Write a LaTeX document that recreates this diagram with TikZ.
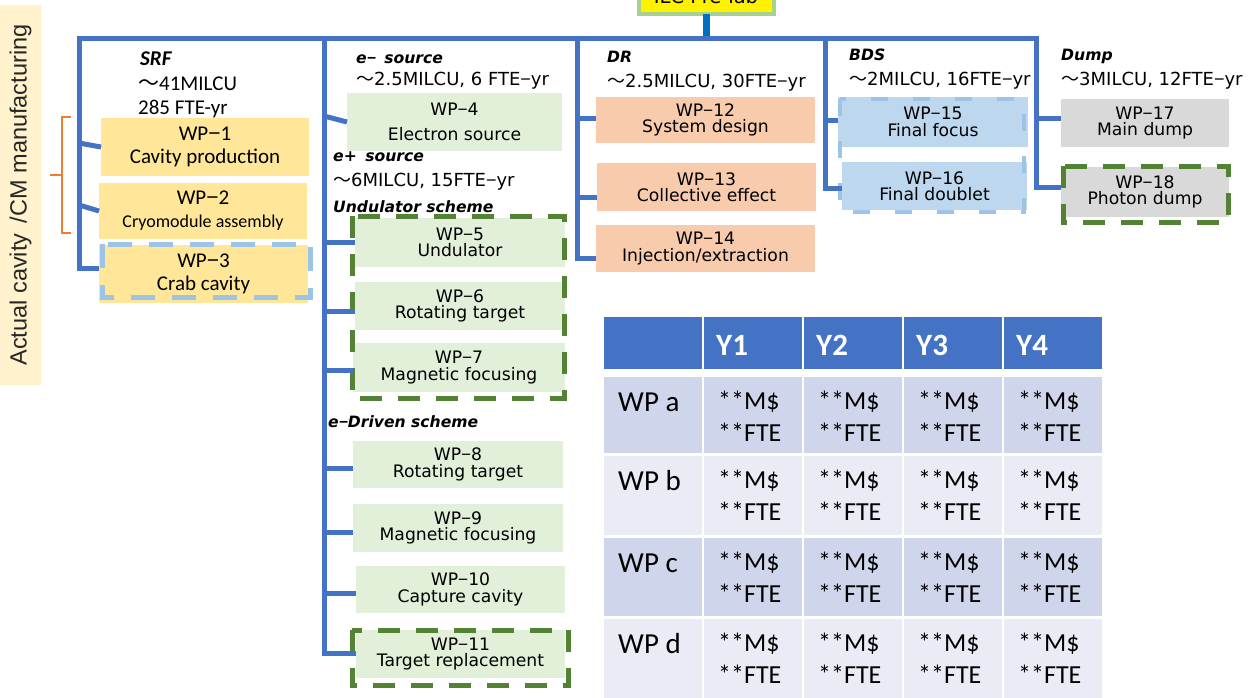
\documentclass[tikz,border=0pt]{standalone}
\usepackage{fontspec}
\setmainfont{DejaVu Sans}
\newfontfamily\gothfont{DejaVu Sans}
\newfontfamily\calfont{Carlito}
\newfontfamily\arialfont{Liberation Sans}
\newfontfamily\cjkfont{Noto Sans CJK JP}

% small helpers
\newcommand\wave{{\cjkfont ～}}
\newcommand\mns{{\arialfont −}}
\newcommand\srffnt{\calfont\fontsize{21}{23}\selectfont}
\newcommand\boxfnt{\gothfont\fontsize{17.2}{16.5}\selectfont\lineskiplimit=-40pt\lineskip=0pt\relax}
\newcommand\boxfntw{\gothfont\fontsize{17.2}{25}\selectfont}
\newcommand\hdrfnt{\gothfont\fontsize{18}{20}\selectfont}
\newcommand\hditfnt{\gothfont\bfseries\itshape\fontsize{15.6}{18}\selectfont}

% box given by its corners: name, style, x1, y1, x2, y2, text
\newcommand\wpnode[7]{%
  \node[#2, minimum width={(#5)-(#3)}, minimum height={(#6)-(#4)}]
    (#1) at ({((#3)+(#5))/2},{((#4)+(#6))/2}) {#7};}

\definecolor{busblue}{HTML}{4472C4}
\definecolor{rootblue}{HTML}{0070C0}
\definecolor{srfyellow}{HTML}{FFE699}
\definecolor{srcgreen}{HTML}{E2F0D9}
\definecolor{drorange}{HTML}{F8CBAD}
\definecolor{bdsblue}{HTML}{BDD7EE}
\definecolor{bdsdash}{HTML}{9DC3E6}
\definecolor{dumpgray}{HTML}{D9D9D9}
\definecolor{dashgreen}{HTML}{548235}
\definecolor{ilcgreen}{HTML}{A9D18E}
\definecolor{sidebeige}{HTML}{FFF2CC}
\definecolor{braceorange}{HTML}{ED7D31}
\definecolor{hdrblue}{HTML}{4472C4}
\definecolor{rowdark}{HTML}{CFD5EA}
\definecolor{rowlight}{HTML}{E9EBF5}

\tikzset{
  bus/.style={draw=busblue, line width=5pt},
  rootlink/.style={draw=rootblue, line width=7pt},
  wpbox/.style={rectangle, inner sep=0pt, outer sep=0pt, align=center, text=black},
  srfbox/.style={wpbox, fill=srfyellow, font=\srffnt},
  greenbox/.style={wpbox, fill=srcgreen, font=\boxfnt},
  drbox/.style={wpbox, fill=drorange, font=\boxfnt},
  bdsbox/.style={wpbox, fill=bdsblue, font=\boxfnt},
  dumpbox/.style={wpbox, fill=dumpgray, font=\boxfnt},
  frameblue/.style={draw=bdsdash, line width=5pt, dash pattern=on 24pt off 17pt},
  framebds/.style={draw=bdsdash, line width=4pt, dash pattern=on 17pt off 25pt},
  framegreen/.style={draw=dashgreen, line width=5pt, dash pattern=on 22pt off 16pt},
  hdr/.style={anchor=base west, inner sep=0pt, font=\hdrfnt},
  hdrit/.style={anchor=base west, inner sep=0pt, font=\hditfnt},
  srfhdr/.style={anchor=base west, inner sep=0pt, font=\srffnt},
  cellbox/.style={rectangle, inner sep=0pt, outer sep=0pt},
  thead/.style={anchor=base west, inner sep=0pt, text=white, font=\calfont\bfseries\fontsize{31}{31}\selectfont},
  tlab/.style={anchor=base west, inner sep=0pt, font=\calfont\fontsize{29}{29}\selectfont},
  tval/.style={anchor=base west, inner sep=0pt, font=\calfont\fontsize{26}{26}\selectfont},
}

\begin{document}
\begin{tikzpicture}[x=1pt, y=-1pt]
\useasboundingbox (0,0) rectangle (1250,697);
\begin{scope}
\clip (0,0) rectangle (1250,697);

% side label and its brace
\node[rotate=90, fill=sidebeige, minimum width=380pt, minimum height=41pt, inner sep=0pt,
      text=black!85, font=\arialfont\fontsize{23.5}{23.5}\selectfont]
  (side) at (20.5,195) {Actual cavity \,/CM manufacturing};
\draw[braceorange, line width=2.5pt] (71,117) -- (62,117) -- (62,233) -- (71,233);
\draw[braceorange, line width=2.5pt] (62,175) -- (50,175);

% root box
\node[rectangle, fill=yellow, draw=ilcgreen, line width=4pt, inner sep=0pt, outer sep=0pt,
      minimum width=135pt, minimum height=46pt] (ilc) at (706,-9) {};
\node[anchor=base, inner sep=0pt, font=\gothfont\fontsize{19.5}{20}\selectfont]
  (ilctext) at (706,3) {ILC Pre-lab};

% group headers
\node[srfhdr, font=\calfont\bfseries\itshape\fontsize{21}{23}\selectfont] (h-srf) at (140,65) {SRF};
\node[srfhdr] (h-srf2) at (138,90) {\wave41MILCU};
\node[srfhdr] (h-srf3) at (138,114) {285 FTE-yr};

\node[hdrit] (h-em) at (356,63) {e\mns\hspace{3pt} source};
\node[hdr] (h-em2) at (356,85) {\wave2.5MILCU, 6 FTE\mns yr};
\node[hdrit] (h-ep) at (333,161) {e+\hspace{3pt} source};
\node[hdr] (h-ep2) at (333,186) {\wave6MILCU, 15FTE\mns yr};
\node[hdrit] (h-und) at (333,212) {Undulator scheme};
\node[hdrit] (h-edr) at (328,427) {e\mns Driven scheme};

\node[hdrit] (h-dr) at (607,62) {DR};
\node[hdr] (h-dr2) at (607,87) {\wave2.5MILCU, 30FTE\mns yr};
\node[hdrit] (h-bds) at (849,60) {BDS};
\node[hdr] (h-bds2) at (849,85) {\wave2MILCU, 16FTE\mns yr};
\node[hdrit] (h-dump) at (1061,60) {Dump};
\node[hdr] (h-dump2) at (1061,85) {\wave3MILCU, 12FTE\mns yr};

% SRF work packages
\wpnode{wp1}{srfbox}{101}{118}{309}{176}{WP\mns 1\\Cavity production}
\wpnode{wp2}{srfbox}{99}{183}{307}{239}{WP\mns 2\\{\fontsize{18}{23}\selectfont Cryomodule assembly}}
\wpnode{wp3}{srfbox}{99}{245}{308}{303}{WP\mns 3\\Crab cavity}
\draw[frameblue] (102,244) rectangle (310,297);

% source work packages
\wpnode{wp4}{greenbox, font=\boxfntw}{347}{93}{562}{151}{WP\mns 4\\Electron source}
\wpnode{wp5}{greenbox}{355}{218}{565}{267}{WP\mns 5\\Undulator}
\wpnode{wp6}{greenbox}{355}{282}{565}{330}{WP\mns 6\\Rotating target}
\wpnode{wp7}{greenbox}{353}{343}{565}{392}{WP\mns 7\\Magnetic focusing}
\draw[framegreen] (352,216) rectangle (564,398);
\wpnode{wp8}{greenbox}{353}{441}{563}{488}{WP\mns 8\\Rotating target}
\wpnode{wp9}{greenbox}{353}{504}{563}{552}{WP\mns 9\\Magnetic focusing}
\wpnode{wp10}{greenbox}{356}{566}{565}{613}{WP\mns 10\\Capture cavity}
\wpnode{wp11}{greenbox}{356}{630}{565}{678}{WP\mns 11\\Target replacement}
\draw[framegreen] (352,630) rectangle (568,685);

% DR work packages
\wpnode{wp12}{drbox}{596}{97}{815}{143}{WP\mns 12\\System design}
\wpnode{wp13}{drbox}{597}{163}{816}{211}{WP\mns 13\\Collective effect}
\wpnode{wp14}{drbox}{596}{225}{815}{272}{WP\mns 14\\Injection/extraction}

% BDS work packages
\wpnode{wp15}{bdsbox}{838}{97}{1028}{147}{WP\mns 15\\Final focus}
\wpnode{wp16}{bdsbox}{842}{162}{1027}{210}{WP\mns 16\\Final doublet}
\draw[framebds] (840,99) rectangle (1024,212);

% dump work packages
\wpnode{wp17}{dumpbox}{1061}{99}{1229}{147}{WP\mns 17\\Main dump}
\wpnode{wp18}{dumpbox}{1061}{167}{1229}{217}{WP\mns 18\\Photon dump}
\draw[framegreen] (1063,166) rectangle (1228,222);

% tree connectors
\coordinate (bus-l) at (79,38);
\coordinate (bus-r) at (1036,38);
\coordinate (t1) at (79,143);
\coordinate (t2) at (79,205);
\coordinate (t3) at (79,268);
\coordinate (t4) at (324,116);
\coordinate (t5) at (324,242);
\coordinate (t6) at (324,311);
\coordinate (t7) at (324,370);
\coordinate (t8) at (324,468);
\coordinate (t9) at (324,532);
\coordinate (t10) at (324,593);
\coordinate (t11) at (324,653);
\coordinate (t12) at (577,118);
\coordinate (t13) at (577,197);
\coordinate (t14) at (577,258);
\coordinate (t15) at (825,120);
\coordinate (t16) at (825,188);
\coordinate (t17) at (1036,118);
\coordinate (t18) at (1036,187);

\draw[rootlink] (ilc.south) -- (ilc.south |- bus-l);
\draw[bus] (t3 -| wp3.west) -- (t3) -- (bus-l) -- (bus-r) -- (t18) -- (t18 -| wp18.west);
\draw[bus] (t11 |- bus-l) -- (t11) -- (t11 -| wp11.west);
\draw[bus] (t14 |- bus-l) -- (t14) -- (t14 -| wp14.west);
\draw[bus] (t16 |- bus-l) -- (t16) -- (t16 -| wp16.west);
\draw[bus] (t1) -- (wp1.west);
\draw[bus] (t2) -- (wp2.west);
\draw[bus] (t4) -- (wp4.west);
\foreach \k in {5,6,7,8,9,10,12,13,15,17} {
  \draw[bus] (t\k) -- (t\k -| wp\k.west);
}

% yearly resource table
\wpnode{hd0}{cellbox, fill=hdrblue}{604}{317}{702}{369}{}
\foreach \c/\lab in {1/Y1, 2/Y2, 3/Y3, 4/Y4} {
  \pgfmathsetmacro\xl{604+100*\c}
  \wpnode{hd\c}{cellbox, fill=hdrblue}{\xl}{317}{\xl+98}{369}{}
  \node[thead] (yl\c) at (\xl+12,355) {\lab};
}
\foreach \r/\lab/\top/\bot/\rc in {1/a/377/453/rowdark, 2/b/456/535/rowlight,
                                   3/c/538/616/rowdark, 4/d/619/720/rowlight} {
  \wpnode{row\r}{cellbox, fill=\rc}{604}{\top}{702}{\bot}{}
  \node[tlab] (wpl\r) at (618,\top+34) {WP \lab};
  \foreach \c in {1,2,3,4} {
    \pgfmathsetmacro\xl{604+100*\c}
    \wpnode{cell\r\c}{cellbox, fill=\rc}{\xl}{\top}{\xl+98}{\bot}{}
    \node[tval] (m\r\c) at (\xl+14,\top+32) {**M\$};
    \node[tval] (f\r\c) at (\xl+14,\top+64) {**FTE};
  }
}
\end{scope}
\end{tikzpicture}
\end{document}
